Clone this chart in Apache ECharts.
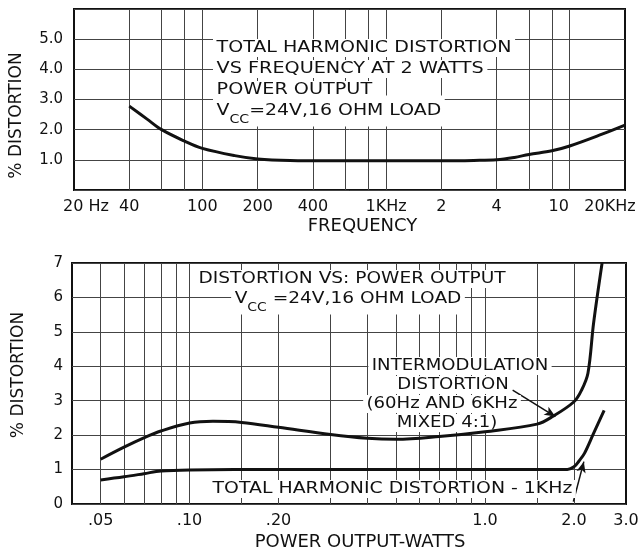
<!DOCTYPE html>
<html>
<head>
<meta charset="utf-8">
<title>Distortion curves</title>
<script src="https://cdn.jsdelivr.net/npm/echarts@6/dist/echarts.min.js"></script>
<style>
  html, body { margin: 0; padding: 0; background: #fff; }
  #chart { width: 642px; height: 552px; }
</style>
</head>
<body>
<div id="chart"></div>
<script>
// top chart: THD vs frequency at 2 W
const freqHz = [40, 50, 60, 80, 100, 150, 200, 300, 500, 1000, 2000, 3000, 4000, 5000, 6000, 8000, 10000, 15000, 20000];
const thdVsFreq = [2.78, 2.35, 2.0, 1.62, 1.38, 1.14, 1.03, 0.98, 0.97, 0.97, 0.97, 0.98, 1.0, 1.08, 1.18, 1.3, 1.46, 1.85, 2.15];
const freqTicks = [20, 40, 100, 200, 400, 1000, 2000, 4000, 10000, 20000];
const freqTickLabels = ['20 Hz', '40', '100', '200', '400', '1KHz', '2', '4', '10', '20KHz'];
const freqGrid = [40, 60, 80, 100, 200, 400, 600, 800, 1000, 2000, 4000, 6000, 8000, 10000];

// bottom chart: distortion vs power output
const imPowerW = [0.05, 0.06, 0.07, 0.08, 0.10, 0.12, 0.15, 0.20, 0.30, 0.40, 0.50, 0.70, 1.0, 1.5, 1.7, 2.0, 2.12, 2.23, 2.33, 2.49];
const imDist = [1.30, 1.65, 1.92, 2.12, 2.35, 2.40, 2.37, 2.23, 2.02, 1.91, 1.88, 1.96, 2.10, 2.32, 2.55, 2.97, 3.3, 3.8, 5.25, 7.0];
const thdPowerW = [0.05, 0.06, 0.07, 0.08, 0.10, 0.20, 0.50, 1.0, 1.9, 2.0, 2.08, 2.17, 2.33, 2.53];
const thdDist = [0.70, 0.79, 0.88, 0.96, 0.99, 1.0, 1.0, 1.0, 1.0, 1.08, 1.25, 1.47, 2.05, 2.72];
const powerTicks = [0.05, 0.1, 0.2, 1.0, 2.0, 3.0];
const powerTickLabels = ['.05', '.10', '.20', '1.0', '2.0', '3.0'];
const powerGrid = [0.05, 0.06, 0.07, 0.08, 0.09, 0.1, 0.15, 0.2, 0.3, 0.4, 0.5, 0.6, 0.7, 0.8, 0.9, 1.0, 1.5, 2.0];

// note arrows [watts, %]: from the text to the curve
const imArrow = [[1.24, 3.31], [1.73, 2.54]];
const thdArrow = [[1.99, 0.07], [2.16, 1.23]];

const lg = Math.log10;
const FONT = 'DejaVu Sans';
const INK = '#111';
const gridLine = { color: '#444', width: 1 };

const toPairs = (xs, ys) => xs.map((x, i) => [lg(x), ys[i]]);

// label lookup on a log10 value axis
function tickFormatter(ticks, labels, shift) {
  return (v) => {
    const i = ticks.findIndex((t) => Math.abs(lg(t) - v) < 1e-6);
    if (i < 0) return '';
    const s = shift && shift[labels[i]];
    return s ? '{' + s + '|' + labels[i] + '}' : labels[i];
  };
}

// edge labels on the frequency axis sit a bit inside
const freqLabelShift = { '20 Hz': 'l', '10': 'r', '20KHz': 'r2' };
const labelRich = {
  l: { fontSize: 16, fontFamily: FONT, color: INK, padding: [0, 0, 0, 24] },
  r: { fontSize: 16, fontFamily: FONT, color: INK, padding: [0, 22, 0, 0] },
  r2: { fontSize: 16, fontFamily: FONT, color: INK, padding: [0, 30, 0, 0] },
};

// text notes on white boxes: above the grid lines, under the curves
function note(text, x, y, scaleX, align) {
  return {
    type: 'text',
    x: x,
    y: y,
    scaleX: scaleX,
    z: 100,
    silent: true,
    style: {
      text: text,
      x: 0,
      y: 0,
      fill: INK,
      fontSize: 16,
      fontFamily: FONT,
      align: align || 'left',
      verticalAlign: 'middle',
      backgroundColor: '#fff',
      padding: [1, 3],
      rich: {
        s: { fontSize: 12, fontFamily: FONT, fill: INK, padding: [17, 0, 0, 0] },
      },
    },
  };
}

const arrowLine = (pts) => [
  { coord: [lg(pts[0][0]), pts[0][1]] },
  { coord: [lg(pts[1][0]), pts[1][1]] },
];

const curveStyle = { color: INK, width: 3 };
const arrowMarks = (pts) => ({
  silent: true,
  symbol: ['none', 'arrow'],
  symbolSize: [7, 11],
  label: { show: false },
  lineStyle: { color: INK, width: 1.5, type: 'solid' },
  data: [arrowLine(pts)],
});

const chart = echarts.init(document.getElementById('chart'));

chart.setOption({
  animation: false,
  backgroundColor: '#fff',
  textStyle: { fontFamily: FONT, color: INK },
  grid: [
    { left: 72, top: 9, width: 553, height: 181, show: true, borderColor: INK, borderWidth: 2 },
    { left: 72, top: 263, width: 554, height: 241, show: true, borderColor: INK, borderWidth: 2 },
  ],
  xAxis: [
    {
      gridIndex: 0,
      type: 'value',
      min: lg(20),
      max: lg(20000),
      name: 'FREQUENCY',
      nameLocation: 'middle',
      nameGap: 27,
      nameTextStyle: { fontSize: 18, fontFamily: FONT, color: INK, padding: [0, 0, 0, 26] },
      axisLine: { show: false },
      axisTick: { show: false, customValues: freqGrid.map(lg) },
      splitLine: { show: true, lineStyle: gridLine },
      axisLabel: {
        customValues: freqTicks.map(lg),
        formatter: tickFormatter(freqTicks, freqTickLabels, freqLabelShift),
        rich: labelRich,
        fontSize: 16,
        color: INK,
        margin: 9,
      },
    },
    {
      gridIndex: 1,
      type: 'value',
      min: lg(0.04),
      max: lg(3.0),
      name: 'POWER OUTPUT-WATTS',
      nameLocation: 'middle',
      nameGap: 29,
      nameTextStyle: { fontSize: 18, fontFamily: FONT, color: INK, padding: [0, 0, 0, 22] },
      axisLine: { show: false },
      axisTick: { show: false, customValues: powerGrid.map(lg) },
      splitLine: { show: true, lineStyle: gridLine },
      axisLabel: {
        customValues: powerTicks.map(lg),
        formatter: tickFormatter(powerTicks, powerTickLabels),
        fontSize: 16,
        color: INK,
        margin: 9,
      },
    },
  ],
  yAxis: [
    {
      gridIndex: 0,
      type: 'value',
      min: 0,
      max: 6,
      interval: 1,
      name: '% DISTORTION',
      nameLocation: 'middle',
      nameGap: 49,
      nameTextStyle: { fontSize: 17, fontFamily: FONT, color: INK, padding: [0, 32, 0, 0] },
      axisLine: { show: false },
      axisTick: { show: false },
      splitLine: { show: true, lineStyle: gridLine },
      axisLabel: {
        formatter: (v) => v.toFixed(1),
        showMinLabel: false,
        showMaxLabel: false,
        fontSize: 15,
        color: INK,
        margin: 11,
      },
    },
    {
      gridIndex: 1,
      type: 'value',
      min: 0,
      max: 7,
      interval: 1,
      name: '% DISTORTION',
      nameLocation: 'middle',
      nameGap: 45,
      nameTextStyle: { fontSize: 17, fontFamily: FONT, color: INK, padding: [0, 0, 0, 17] },
      axisLine: { show: false },
      axisTick: { show: false },
      splitLine: { show: true, lineStyle: gridLine },
      axisLabel: { fontSize: 15, color: INK, margin: 9 },
    },
  ],
  series: [
    {
      name: 'THD vs frequency',
      type: 'line',
      xAxisIndex: 0,
      yAxisIndex: 0,
      z: 200,
      data: toPairs(freqHz, thdVsFreq),
      smooth: 0.35,
      showSymbol: false,
      lineStyle: curveStyle,
    },
    {
      name: 'Intermodulation distortion',
      type: 'line',
      xAxisIndex: 1,
      yAxisIndex: 1,
      z: 200,
      data: toPairs(imPowerW, imDist),
      smooth: 0.35,
      showSymbol: false,
      lineStyle: curveStyle,
      markLine: arrowMarks(imArrow),
    },
    {
      name: 'THD 1KHz',
      type: 'line',
      xAxisIndex: 1,
      yAxisIndex: 1,
      z: 200,
      data: toPairs(thdPowerW, thdDist),
      smooth: 0.35,
      showSymbol: false,
      lineStyle: curveStyle,
      markLine: arrowMarks(thdArrow),
    },
  ],
  graphic: [
    // top chart note
    note('TOTAL HARMONIC DISTORTION', 213, 48, 1.19),
    note('VS FREQUENCY AT 2 WATTS', 213, 69, 1.2),
    note('POWER OUTPUT', 213, 90, 1.2),
    note('V{s|CC}=24V,16 OHM LOAD', 213, 111, 1.18),
    // bottom chart title note
    note('DISTORTION VS: POWER OUTPUT', 352, 279, 1.16, 'center'),
    note('V{s|CC} =24V,16 OHM LOAD', 348, 299, 1.16, 'center'),
    // curve labels
    note('INTERMODULATION', 460, 366, 1.13, 'center'),
    note('DISTORTION', 453, 385, 1.13, 'center'),
    note('(60Hz AND 6KHz', 442, 404, 1.13, 'center'),
    note('MIXED 4:1)', 447, 423, 1.13, 'center'),
    note('TOTAL HARMONIC DISTORTION - 1KHz', 209, 489, 1.18),
  ],
});
</script>
</body>
</html>
